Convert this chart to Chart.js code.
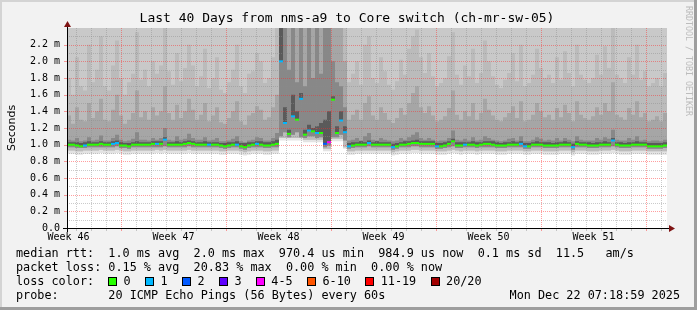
<!DOCTYPE html>
<html lang="en">
<head>
<meta charset="UTF-8">
<title>Last 40 Days from nms-a9 to Core switch (ch-mr-sw-05)</title>
<script src="https://cdn.jsdelivr.net/npm/chart.js"></script>
<style>
  html, body { margin: 0; padding: 0; background: #f2f2f2; }
  canvas { display: block; }
</style>
</head>
<body>
<canvas id="smoke" width="697" height="310"></canvas>
<script>
// 150 bins over 40 days, values in ms
const median = [
  1.00,1.00,0.99,0.98,0.99,1.00,1.00,1.00,1.01,1.00,
  1.00,1.01,1.02,0.99,0.99,0.98,1.00,1.00,1.00,1.00,
  1.00,1.01,1.01,1.01,1.06,1.00,1.00,1.00,1.00,1.01,
  1.02,1.01,1.00,1.00,1.00,1.00,1.00,1.00,0.99,0.98,
  0.99,1.00,1.00,0.98,0.97,0.99,1.00,1.01,1.00,0.99,
  0.99,1.00,1.01,2.00,1.26,1.13,1.34,1.30,1.55,1.12,
  1.17,1.16,1.14,1.14,1.01,1.03,1.54,1.14,1.29,1.15,
  0.98,0.99,1.00,1.00,1.00,1.02,1.00,1.00,1.00,1.00,
  1.00,0.97,0.98,1.00,1.00,1.01,1.02,1.02,1.01,1.01,
  1.01,1.01,0.98,0.98,0.99,1.01,1.04,0.99,0.99,1.00,
  1.00,1.00,0.99,1.00,1.01,1.01,1.00,0.99,0.99,0.99,
  1.00,1.00,1.00,1.01,0.98,0.98,1.00,1.00,1.00,0.99,
  0.99,0.99,0.99,1.00,1.00,1.00,0.97,1.01,1.00,1.00,
  0.99,0.99,0.99,1.00,1.00,1.00,1.05,1.00,0.99,0.99,
  0.99,1.00,1.00,1.00,1.00,0.98,0.98,0.98,0.98,0.99
];
// lost pings (of 20) per bin
const loss = [
  0,0,0,0,1,0,0,0,0,0, 0,1,1,0,0,0,0,0,0,0, 0,0,1,0,1,0,0,0,0,0,
  0,0,0,0,0,1,0,0,0,0, 0,0,1,0,0,0,0,1,0,0, 0,0,0,1,1,0,1,0,1,0,
  1,0,1,0,2,4,0,0,1,1, 1,0,0,0,0,1,0,0,0,0, 0,1,0,0,0,0,0,0,0,0,
  0,0,1,0,0,0,0,0,0,1, 0,0,0,0,0,0,0,0,0,0, 0,0,0,1,1,0,0,0,0,0,
  0,0,0,0,0,0,1,0,0,0, 0,0,0,0,0,0,1,0,0,0, 0,0,0,0,0,0,0,0,0,0
];
// smoke: lower edges
const floorA = [
  0.89,0.89,0.88,0.88,0.89,0.89,0.89,0.89,0.90,0.89,
  0.89,0.89,0.90,0.89,0.88,0.88,0.89,0.89,0.89,0.89,
  0.89,0.89,0.90,0.89,0.90,0.89,0.89,0.89,0.89,0.89,
  0.90,0.89,0.89,0.89,0.89,0.89,0.89,0.89,0.88,0.88,
  0.89,0.89,0.89,0.88,0.87,0.88,0.89,0.89,0.89,0.88,
  0.88,0.89,0.89,1.05,1.05,1.05,1.05,1.05,1.05,1.03,
  1.03,1.03,1.03,1.03,0.92,0.92,1.04,1.04,1.04,0.95,
  0.88,0.88,0.89,0.89,0.89,0.89,0.89,0.89,0.89,0.89,
  0.89,0.87,0.88,0.89,0.89,0.89,0.90,0.90,0.89,0.89,
  0.89,0.89,0.88,0.88,0.88,0.89,0.90,0.89,0.88,0.89,
  0.89,0.89,0.88,0.89,0.89,0.89,0.89,0.88,0.88,0.88,
  0.89,0.89,0.89,0.89,0.88,0.88,0.89,0.89,0.89,0.88,
  0.88,0.88,0.88,0.89,0.89,0.89,0.87,0.89,0.89,0.89,
  0.88,0.88,0.88,0.89,0.89,0.89,0.90,0.89,0.88,0.88,
  0.88,0.89,0.89,0.89,0.89,0.88,0.88,0.88,0.88,0.88
];
const floorB = [
  0.93,0.93,0.92,0.92,0.93,0.93,0.93,0.93,0.94,0.93,
  0.93,0.93,0.94,0.93,0.92,0.92,0.93,0.93,0.93,0.93,
  0.93,0.93,0.94,0.93,0.94,0.93,0.93,0.93,0.93,0.93,
  0.94,0.93,0.93,0.93,0.93,0.93,0.93,0.93,0.92,0.92,
  0.93,0.93,0.93,0.92,0.91,0.92,0.93,0.93,0.93,0.92,
  0.92,0.93,0.93,1.08,1.08,1.08,1.08,1.08,1.08,1.06,
  1.06,1.06,1.06,1.06,0.95,0.95,1.07,1.07,1.07,0.97,
  0.92,0.92,0.93,0.93,0.93,0.93,0.93,0.93,0.93,0.93,
  0.93,0.91,0.92,0.93,0.93,0.93,0.94,0.94,0.93,0.93,
  0.93,0.93,0.92,0.92,0.92,0.93,0.94,0.93,0.92,0.93,
  0.93,0.93,0.92,0.93,0.93,0.93,0.93,0.92,0.92,0.92,
  0.93,0.93,0.93,0.93,0.92,0.92,0.93,0.93,0.93,0.92,
  0.92,0.92,0.92,0.93,0.93,0.93,0.91,0.93,0.93,0.93,
  0.92,0.92,0.92,0.93,0.93,0.93,0.94,0.93,0.92,0.92,
  0.92,0.93,0.93,0.93,0.93,0.92,0.92,0.92,0.92,0.92
];
const floorD = [
  0.97,0.97,0.96,0.96,0.96,0.97,0.97,0.97,0.97,0.97,
  0.97,0.97,0.98,0.96,0.96,0.95,0.97,0.97,0.97,0.97,
  0.97,0.97,0.97,0.97,0.98,0.97,0.97,0.97,0.97,0.97,
  0.98,0.97,0.97,0.97,0.97,0.97,0.97,0.97,0.96,0.95,
  0.96,0.97,0.97,0.95,0.94,0.96,0.97,0.97,0.97,0.96,
  0.96,0.97,0.97,1.10,1.15,1.09,1.12,1.15,1.09,1.08,
  1.10,1.10,1.08,1.09,0.97,0.99,1.09,1.09,1.12,1.05,
  0.95,0.96,0.97,0.97,0.97,0.98,0.97,0.97,0.97,0.97,
  0.97,0.94,0.95,0.97,0.97,0.97,0.98,0.98,0.97,0.97,
  0.97,0.97,0.95,0.95,0.96,0.97,0.98,0.96,0.96,0.97,
  0.97,0.97,0.96,0.97,0.97,0.97,0.97,0.96,0.96,0.96,
  0.97,0.97,0.97,0.97,0.95,0.95,0.97,0.97,0.97,0.96,
  0.96,0.96,0.96,0.97,0.97,0.97,0.94,0.97,0.97,0.97,
  0.96,0.96,0.96,0.97,0.97,0.97,0.98,0.97,0.96,0.96,
  0.96,0.97,0.97,0.97,0.97,0.95,0.95,0.95,0.95,0.96
];
// smoke: upper edges
const upC = [
  1.80,1.60,2.05,1.70,1.65,2.20,1.75,1.90,2.30,1.70,
  1.65,1.95,2.25,1.80,1.60,1.75,1.85,2.35,1.78,1.90,
  1.70,2.00,1.85,1.95,2.40,1.88,1.72,2.10,1.76,1.92,
  2.20,1.95,1.70,1.82,2.15,1.68,1.80,2.05,1.66,1.62,
  1.75,1.90,2.20,1.70,1.62,1.85,1.88,2.10,2.00,1.74,
  1.80,2.05,2.40,2.40,2.40,2.40,2.40,2.40,2.40,2.40,
  2.40,2.40,2.40,2.40,2.40,2.40,2.40,2.40,2.40,2.40,
  1.75,1.85,2.00,1.72,2.20,2.30,1.80,1.74,2.05,1.88,
  1.72,1.66,1.76,2.02,1.84,2.15,2.30,2.38,2.05,1.86,
  2.10,1.82,1.70,1.74,1.80,2.06,2.35,1.84,1.72,1.95,
  1.82,2.15,1.74,1.86,2.25,2.00,1.82,1.72,1.68,1.78,
  1.86,2.10,1.76,2.20,1.70,1.74,1.84,2.15,1.92,1.80,
  1.84,1.74,2.05,1.78,2.12,1.86,1.70,2.20,1.84,1.78,
  1.74,1.80,2.08,1.84,2.18,1.92,2.40,1.84,1.80,1.74,
  2.05,1.84,2.20,1.78,1.88,1.70,1.74,1.80,1.70,1.86
];
const upD = [
  1.35,1.25,1.45,1.30,1.28,1.50,1.32,1.40,1.55,1.30,
  1.28,1.42,1.60,1.35,1.25,1.30,1.38,1.65,1.33,1.40,
  1.30,1.45,1.35,1.40,1.70,1.38,1.30,1.48,1.32,1.40,
  1.55,1.42,1.30,1.36,1.50,1.28,1.35,1.45,1.27,1.25,
  1.32,1.40,1.52,1.28,1.24,1.35,1.38,1.46,1.42,1.30,
  1.33,1.45,1.60,2.40,2.40,2.40,2.40,2.40,2.40,2.40,
  2.40,2.40,2.40,2.40,2.40,2.40,2.40,2.40,2.40,2.00,
  1.30,1.36,1.42,1.30,1.50,1.58,1.35,1.30,1.45,1.38,
  1.30,1.26,1.32,1.44,1.36,1.50,1.62,1.70,1.45,1.38,
  1.46,1.35,1.28,1.30,1.34,1.44,1.65,1.36,1.30,1.40,
  1.34,1.50,1.30,1.38,1.55,1.42,1.35,1.30,1.28,1.33,
  1.38,1.46,1.32,1.52,1.28,1.30,1.36,1.50,1.40,1.33,
  1.36,1.30,1.44,1.33,1.48,1.38,1.28,1.52,1.36,1.32,
  1.30,1.34,1.45,1.36,1.50,1.40,1.75,1.36,1.33,1.30,
  1.44,1.36,1.52,1.33,1.38,1.28,1.30,1.34,1.28,1.38
];
const upE = [
  1.06,1.05,1.08,1.04,1.05,1.09,1.05,1.06,1.11,1.05,
  1.05,1.08,1.12,1.06,1.04,1.05,1.07,1.15,1.06,1.06,
  1.05,1.08,1.06,1.08,1.20,1.06,1.05,1.10,1.06,1.07,
  1.13,1.08,1.06,1.06,1.09,1.05,1.06,1.08,1.04,1.04,
  1.05,1.07,1.10,1.04,1.03,1.05,1.06,1.09,1.08,1.05,
  1.05,1.08,1.14,2.40,2.40,1.90,2.40,1.75,2.40,1.70,
  2.40,1.80,2.40,1.85,2.40,2.40,2.00,1.75,1.70,1.45,
  1.05,1.06,1.08,1.05,1.10,1.14,1.06,1.05,1.08,1.06,
  1.05,1.04,1.05,1.08,1.06,1.09,1.12,1.15,1.08,1.06,
  1.08,1.06,1.04,1.05,1.05,1.08,1.17,1.06,1.05,1.07,
  1.05,1.09,1.05,1.06,1.10,1.08,1.06,1.05,1.04,1.05,
  1.07,1.08,1.05,1.10,1.04,1.04,1.06,1.09,1.07,1.05,
  1.06,1.05,1.08,1.05,1.08,1.06,1.04,1.10,1.06,1.05,
  1.05,1.05,1.08,1.06,1.09,1.07,1.18,1.06,1.05,1.05,
  1.08,1.06,1.10,1.05,1.06,1.04,1.05,1.05,1.04,1.06
];
const upF = [
  1.03,1.03,1.03,1.02,1.03,1.04,1.03,1.03,1.04,1.03,
  1.03,1.04,1.05,1.03,1.02,1.02,1.03,1.04,1.03,1.03,
  1.03,1.04,1.04,1.04,1.09,1.03,1.03,1.04,1.03,1.04,
  1.05,1.04,1.03,1.03,1.04,1.03,1.03,1.03,1.02,1.02,
  1.03,1.03,1.04,1.02,1.02,1.03,1.03,1.04,1.04,1.03,
  1.03,1.04,1.06,2.40,1.45,1.18,1.60,1.40,1.62,1.18,
  1.24,1.20,1.22,1.26,1.30,1.40,1.58,1.22,1.40,1.22,
  1.02,1.03,1.03,1.04,1.03,1.05,1.03,1.04,1.03,1.03,
  1.03,1.01,1.02,1.03,1.04,1.04,1.05,1.06,1.04,1.04,
  1.04,1.04,1.02,1.02,1.03,1.04,1.07,1.03,1.03,1.03,
  1.03,1.04,1.03,1.03,1.04,1.04,1.04,1.03,1.02,1.03,
  1.03,1.04,1.03,1.04,1.02,1.02,1.03,1.04,1.03,1.03,
  1.03,1.02,1.03,1.03,1.04,1.03,1.01,1.04,1.03,1.03,
  1.03,1.02,1.03,1.03,1.04,1.03,1.08,1.03,1.03,1.02,
  1.03,1.03,1.04,1.03,1.03,1.02,1.02,1.02,1.02,1.03
];

const weekLabels = ['Week 46', 'Week 47', 'Week 48', 'Week 49', 'Week 50', 'Week 51'];
const weekLabelAt = [0.1, 7.1, 14.1, 21.1, 28.1, 35.1];   // days from start
const weekLines = [3.6, 10.6, 17.6, 24.6, 31.6, 38.6];
const lossLabels = ['0', '1', '2', '3', '4-5', '6-10', '11-19', '20/20'];
const lossColors = ['#26ff00', '#00b8ff', '#0059ff', '#5e00ff', '#ff00ff', '#ff5500', '#ff0000', '#a10000'];

const W = 697, H = 310;
const binDays = 40 / median.length;
const mono = '"DejaVu Sans Mono", monospace';

function lossColor(n) {
  if (n === undefined || n <= 0) return lossColors[0];
  if (n <= 3) return lossColors[n];
  if (n <= 5) return lossColors[4];
  if (n <= 10) return lossColors[5];
  if (n <= 19) return lossColors[6];
  return lossColors[7];
}

// step data: each bin starts at its day, last one closed at day 40
function pts(arr) {
  const out = arr.map((v, i) => ({x: i * binDays, y: v}));
  out.push({x: 40, y: arr[arr.length - 1]});
  return out;
}
// median drawn as separate dashes, one per bin (no vertical links)
function dashes(arr) {
  const out = [];
  arr.forEach((v, i) => {
    out.push({x: i * binDays, y: v}, {x: (i + 1) * binDays, y: v}, {x: (i + 1) * binDays, y: null});
  });
  return out;
}

function band(arr, color, fill, order) {
  return {
    data: pts(arr), stepped: 'before', borderWidth: 0, borderColor: 'rgba(0,0,0,0)',
    backgroundColor: color, fill: fill, pointRadius: 0, order: order
  };
}

function hline(ctx, x1, x2, y, color) {
  ctx.strokeStyle = color;
  ctx.beginPath(); ctx.moveTo(x1, y); ctx.lineTo(x2, y); ctx.stroke();
}
function vline(ctx, x, y1, y2, color) {
  ctx.strokeStyle = color;
  ctx.beginPath(); ctx.moveTo(x, y1); ctx.lineTo(x, y2); ctx.stroke();
}

const minorGrid = 'rgba(140,140,140,0.45)';
const majorGrid = 'rgba(255,40,40,0.45)';

function drawGrid(chart) {
  const {ctx, chartArea: a, scales: {x, y}} = chart;
  ctx.save();
  ctx.lineWidth = 1;
  ctx.setLineDash([1, 1]);
  for (let d = 0.6; d < 40; d += 1) {
    if (weekLines.some(w => Math.abs(w - d) < 0.01)) continue;
    const px = Math.round(x.getPixelForValue(d)) + 0.5;
    vline(ctx, px, a.top, a.bottom, minorGrid);
  }
  for (let v = 1; v < 24; v += 2) {
    const py = Math.round(y.getPixelForValue(v / 10)) + 0.5;
    hline(ctx, a.left, a.right, py, minorGrid);
  }
  weekLines.forEach(d => {
    const px = Math.round(x.getPixelForValue(d)) + 0.5;
    vline(ctx, px, a.top, a.bottom, majorGrid);
  });
  for (let v = 2; v < 24; v += 2) {
    const py = Math.round(y.getPixelForValue(v / 10)) + 0.5;
    hline(ctx, a.left, a.right, py, majorGrid);
  }
  ctx.setLineDash([]);
  // short ticks outside the plot
  for (let d = 0.6; d < 40; d += 1) {
    const px = Math.round(x.getPixelForValue(d)) + 0.5;
    const major = weekLines.some(w => Math.abs(w - d) < 0.01);
    vline(ctx, px, a.bottom, a.bottom + 3, major ? majorGrid : minorGrid);
  }
  for (let v = 2; v < 24; v += 2) {
    const py = Math.round(y.getPixelForValue(v / 10)) + 0.5;
    hline(ctx, a.left - 3, a.left, py, majorGrid);
  }
  ctx.restore();
}

const rrdFrame = {
  id: 'rrdFrame',
  beforeDraw(chart) {
    const {ctx, chartArea: a} = chart;
    ctx.save();
    ctx.fillStyle = '#f2f2f2';
    ctx.fillRect(0, 0, W, H);
    ctx.fillStyle = '#d4d4d4';
    ctx.fillRect(0, 0, W, 2);
    ctx.fillRect(0, 0, 2, H);
    ctx.fillStyle = '#9e9e9e';
    ctx.fillRect(W - 3, 0, 3, H);
    ctx.fillRect(0, H - 3, W, 3);
    ctx.fillStyle = '#ffffff';
    ctx.fillRect(a.left, a.top, a.right - a.left, a.bottom - a.top);
    ctx.restore();
  },
  beforeDatasetDraw(chart, args) {
    if (args.index === 0) drawGrid(chart);
  },
  afterDraw(chart) {
    const {ctx, chartArea: a} = chart;
    ctx.save();
    // axes
    ctx.fillStyle = '#000';
    ctx.fillRect(a.left - 4, a.bottom, a.right - a.left + 7, 1);
    ctx.fillRect(a.left, a.top - 4, 1, a.bottom - a.top + 8);
    ctx.fillStyle = '#7f1414';
    ctx.beginPath();
    ctx.moveTo(a.left + 0.5, a.top - 7); ctx.lineTo(a.left - 3, a.top - 1); ctx.lineTo(a.left + 4, a.top - 1);
    ctx.closePath(); ctx.fill();
    ctx.beginPath();
    ctx.moveTo(a.right + 8, a.bottom + 0.5); ctx.lineTo(a.right + 2, a.bottom - 3); ctx.lineTo(a.right + 2, a.bottom + 4);
    ctx.closePath(); ctx.fill();

    // title
    ctx.fillStyle = '#000';
    ctx.textBaseline = 'middle';
    ctx.textAlign = 'center';
    ctx.font = '13px ' + mono;
    ctx.fillText('Last 40 Days from nms-a9 to Core switch (ch-mr-sw-05)', 347, 19);

    // y title
    ctx.save();
    ctx.translate(12, 128);
    ctx.rotate(-Math.PI / 2);
    ctx.font = '11px "DejaVu Sans", sans-serif';
    ctx.fillText('Seconds', 0, 0);
    ctx.restore();

    // watermark
    ctx.save();
    ctx.translate(688, 6);
    ctx.rotate(Math.PI / 2);
    ctx.textAlign = 'left';
    ctx.fillStyle = '#bcbcbc';
    ctx.font = '8.3px ' + mono;
    ctx.fillText('RRDTOOL / TOBI OETIKER', 0, 0);
    ctx.restore();

    // legend
    ctx.textAlign = 'left';
    ctx.font = '11.8px ' + mono;
    const cw = ctx.measureText('0').width;
    const x0 = 16;
    ctx.fillText('median rtt:  1.0 ms avg  2.0 ms max  970.4 us min  984.9 us now  0.1 ms sd  11.5   am/s', x0, 254);
    ctx.fillText('packet loss: 0.15 % avg  20.83 % max  0.00 % min  0.00 % now', x0, 268);
    ctx.fillText('loss color:', x0, 282);
    let bx = x0 + 13 * cw;
    lossLabels.forEach((lab, i) => {
      ctx.fillStyle = lossColors[i];
      ctx.fillRect(Math.round(bx), 277, 9, 9);
      ctx.strokeStyle = '#000';
      ctx.lineWidth = 1;
      ctx.strokeRect(Math.round(bx) + 0.5, 277.5, 8, 8);
      ctx.fillStyle = '#000';
      const lx = bx + 2.15 * cw;
      ctx.fillText(lab, lx, 282);
      bx = lx + lab.length * cw + 2.05 * cw;
    });
    ctx.fillText('probe:       20 ICMP Echo Pings (56 Bytes) every 60s', x0, 296);
    ctx.textAlign = 'right';
    ctx.fillText('Mon Dec 22 07:18:59 2025', 680, 296);
    ctx.restore();
  }
};

new Chart(document.getElementById('smoke').getContext('2d'), {
  type: 'line',
  data: {
    datasets: [
      {
        label: 'median rtt', data: dashes(median), fill: false, spanGaps: false,
        borderWidth: 2, borderColor: lossColors[0], borderCapStyle: 'butt', pointRadius: 0, order: 0,
        segment: { borderColor: c => lossColor(loss[Math.floor(c.p0DataIndex / 3)]) }
      },
      band(floorA, '#e3e3e3', {value: 2.4}, 20),
      band(floorB, '#c9c9c9', {value: 2.4}, 19),
      band(upC, '#bbbbbb', 2, 18),
      band(floorD, 'rgba(0,0,0,0)', false, 30),
      band(upD, '#a6a6a6', 4, 17),
      band(upE, '#888888', 4, 16),
      band(median, 'rgba(0,0,0,0)', false, 31),
      band(upF, '#5a5a5a', 7, 15)
    ]
  },
  options: {
    responsive: false,
    animation: false,
    devicePixelRatio: 1,
    layout: { padding: { top: 28, right: 30, left: 0, bottom: 0 } },
    plugins: { legend: { display: false }, tooltip: { enabled: false }, title: { display: false } },
    scales: {
      x: {
        type: 'linear', min: 0, max: 40,
        grid: { display: false, drawTicks: false },
        border: { display: false },
        afterFit: s => { s.height = 82; },
        afterBuildTicks: s => { s.ticks = weekLabelAt.map(v => ({value: v})); },
        ticks: {
          autoSkip: false, maxRotation: 0, minRotation: 0, padding: 3,
          color: '#000', font: { family: mono, size: 10 },
          callback: (v, i) => weekLabels[i]
        }
      },
      y: {
        min: 0, max: 2.4,
        grid: { display: false, drawTicks: false },
        border: { display: false },
        afterFit: s => { s.width = 67; },
        ticks: {
          stepSize: 0.2, padding: 7, color: '#000', font: { family: mono, size: 10 },
          callback: v => {
            if (Math.abs(v - 2.4) < 1e-6) return null;
            if (Math.abs(v) < 1e-6) return '0.0';
            return v.toFixed(1) + ' m';
          }
        }
      }
    }
  },
  plugins: [rrdFrame]
});
</script>
</body>
</html>
